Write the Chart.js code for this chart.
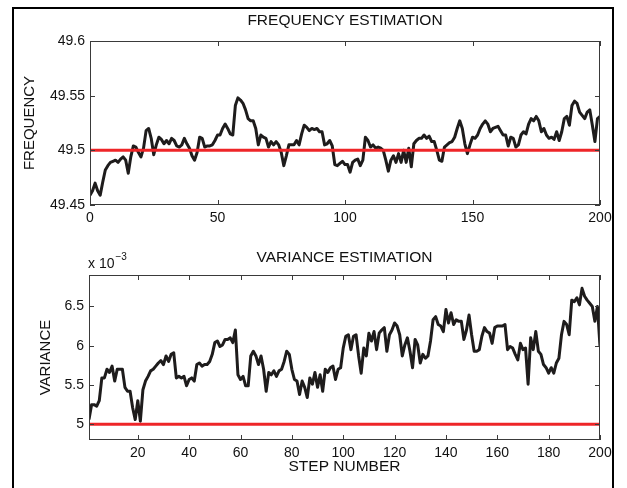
<!DOCTYPE html>
<html>
<head>
<meta charset="utf-8">
<script src="https://cdn.jsdelivr.net/npm/chart.js@4"></script>
<style>
  body { margin: 0; background: #fff; width: 627px; height: 488px; overflow: hidden; position: relative; }
  #border { position: absolute; left: 12px; top: 7px; width: 598px; height: 500px; border: 2px solid #000; }
  canvas { position: absolute; left: 0; }
  #freqCanvas { top: 0; }
  #varCanvas { top: 240px; }
</style>
</head>
<body>
<div id="border"></div>
<canvas id="freqCanvas" width="627" height="240"></canvas>
<canvas id="varCanvas" width="627" height="248"></canvas>
<script>
// frequency estimate, steps 0..200
const freqEst = [
  49.459, 49.463, 49.470, 49.463, 49.459, 49.471, 49.482, 49.486, 49.489, 49.490,
  49.491, 49.489, 49.492, 49.494, 49.491, 49.479, 49.494, 49.504, 49.503, 49.498,
  49.494, 49.502, 49.518, 49.520, 49.511, 49.496, 49.505, 49.512, 49.510, 49.506,
  49.509, 49.506, 49.511, 49.509, 49.504, 49.503, 49.505, 49.511, 49.506, 49.502,
  49.495, 49.491, 49.498, 49.512, 49.511, 49.503, 49.504, 49.504, 49.505, 49.509,
  49.514, 49.514, 49.520, 49.524, 49.520, 49.515, 49.514, 49.541, 49.548, 49.546,
  49.543, 49.537, 49.529, 49.527, 49.527, 49.520, 49.505, 49.514, 49.512, 49.511,
  49.503, 49.508, 49.505, 49.508, 49.505, 49.498, 49.486, 49.495, 49.505, 49.505,
  49.505, 49.509, 49.505, 49.515, 49.523, 49.521, 49.518, 49.520, 49.519, 49.520,
  49.517, 49.517, 49.505, 49.506, 49.509, 49.504, 49.487, 49.486, 49.488, 49.490,
  49.487, 49.487, 49.480, 49.489, 49.491, 49.492, 49.486, 49.491, 49.512, 49.509,
  49.503, 49.505, 49.502, 49.503, 49.502, 49.500, 49.491, 49.481, 49.491, 49.495,
  49.489, 49.497, 49.489, 49.500, 49.489, 49.502, 49.485, 49.506, 49.509, 49.511,
  49.511, 49.514, 49.511, 49.513, 49.508, 49.508, 49.500, 49.491, 49.490, 49.503,
  49.505, 49.507, 49.508, 49.512, 49.520, 49.527, 49.520, 49.506, 49.497, 49.505,
  49.512, 49.511, 49.514, 49.520, 49.524, 49.527, 49.524, 49.517, 49.520, 49.521,
  49.522, 49.518, 49.514, 49.514, 49.504, 49.512, 49.511, 49.503, 49.505, 49.514,
  49.517, 49.515, 49.524, 49.529, 49.527, 49.531, 49.527, 49.517, 49.520, 49.514,
  49.511, 49.512, 49.510, 49.517, 49.509, 49.517, 49.529, 49.531, 49.523, 49.541,
  49.545, 49.543, 49.535, 49.532, 49.529, 49.535, 49.537, 49.523, 49.508, 49.529,
  49.531
];
const trueFreq = 49.5;
const freqXTicks = [0, 50, 100, 150, 200];
const freqYTicks = [49.45, 49.5, 49.55, 49.6];

// variance estimate (x 10^-3), steps 1..200
const varEst = [
  5.06, 5.25, 5.25, 5.23, 5.30, 5.59, 5.59, 5.70, 5.66, 5.74,
  5.55, 5.70, 5.70, 5.70, 5.47, 5.42, 5.42, 5.21, 5.06, 5.30,
  5.04, 5.44, 5.55, 5.61, 5.68, 5.70, 5.74, 5.78, 5.81, 5.76,
  5.87, 5.80, 5.89, 5.91, 5.59, 5.61, 5.59, 5.61, 5.49, 5.57,
  5.59, 5.55, 5.76, 5.78, 5.74, 5.76, 5.76, 5.80, 5.89, 6.04,
  6.06, 5.99, 6.01, 6.08, 6.08, 6.10, 6.04, 6.20, 5.63, 5.57,
  5.61, 5.49, 5.49, 5.87, 5.93, 5.87, 5.76, 5.87, 5.70, 5.42,
  5.66, 5.63, 5.68, 5.61, 5.68, 5.70, 5.80, 5.93, 5.89, 5.70,
  5.57, 5.55, 5.38, 5.55, 5.47, 5.34, 5.59, 5.51, 5.66, 5.47,
  5.63, 5.42, 5.70, 5.66, 5.72, 5.74, 5.57, 5.70, 5.72, 5.97,
  6.12, 6.14, 5.95, 6.12, 6.14, 5.87, 5.65, 5.97, 5.87, 6.16,
  6.06, 6.18, 5.95, 6.16, 6.20, 6.23, 5.93, 6.14, 6.20, 6.29,
  6.25, 6.14, 5.87, 6.01, 6.10, 5.93, 5.72, 6.08, 6.01, 5.78,
  5.89, 5.84, 5.87, 6.06, 6.33, 6.37, 6.27, 6.25, 6.18, 6.46,
  6.29, 6.42, 6.27, 6.33, 6.31, 6.31, 6.08, 6.20, 6.39, 6.14,
  5.93, 5.93, 5.95, 6.12, 6.23, 6.18, 6.16, 6.03, 6.23, 6.25,
  6.25, 6.25, 6.27, 5.95, 5.99, 5.97, 5.89, 5.82, 6.03, 5.95,
  5.97, 5.51, 6.10, 5.95, 6.18, 5.93, 5.89, 5.76, 5.72, 5.65,
  5.72, 5.65, 5.78, 5.84, 6.14, 6.31, 6.27, 6.14, 6.58, 6.56,
  6.61, 6.52, 6.73, 6.63, 6.58, 6.54, 6.50, 6.31, 6.50, 5.99
];
const trueVar = 5;
const varXTicks = [20, 40, 60, 80, 100, 120, 140, 160, 180, 200];
const varYTicks = [5, 5.5, 6, 6.5];

const FONT = "'Liberation Sans', Arial, Helvetica, sans-serif";
const CURVE = '#1e1c1c';
const RED = '#ee2528';

// MATLAB style box with inward ticks on all four sides
const boxPlugin = {
  id: 'box',
  afterDatasetsDraw(chart) {
    const { ctx, chartArea: a, scales: { x, y } } = chart;
    ctx.save();
    ctx.strokeStyle = '#3a3a3a';
    ctx.lineWidth = 1;
    ctx.strokeRect(a.left + 0.5, a.top + 0.5, a.width - 1, a.height - 1);
    ctx.beginPath();
    x.ticks.forEach(t => {
      const px = Math.round(x.getPixelForValue(t.value)) + 0.5;
      ctx.moveTo(px, a.top); ctx.lineTo(px, a.top + 5);
      ctx.moveTo(px, a.bottom); ctx.lineTo(px, a.bottom - 5);
    });
    y.ticks.forEach(t => {
      const py = Math.round(y.getPixelForValue(t.value)) + 0.5;
      ctx.moveTo(a.left, py); ctx.lineTo(a.left + 5, py);
      ctx.moveTo(a.right, py); ctx.lineTo(a.right - 5, py);
    });
    ctx.stroke();
    ctx.restore();
  }
};

// "x 10^-3" multiplier above the variance axis
const expPlugin = {
  id: 'exponent',
  afterDraw(chart) {
    const ctx = chart.ctx;
    ctx.save();
    ctx.fillStyle = '#111';
    ctx.textBaseline = 'alphabetic';
    ctx.font = '14px ' + FONT;
    ctx.fillText('x 10', 88, 28);
    const w = ctx.measureText('x 10').width;
    ctx.font = '10px ' + FONT;
    ctx.fillText('\u22123', 88 + w + 1, 20);
    ctx.restore();
  }
};

const plainNum = v => String(+(+v).toFixed(4));

function makeChart(id, o) {
  const ctx = document.getElementById(id).getContext('2d');
  return new Chart(ctx, {
    type: 'line',
    data: {
      datasets: [
        {
          data: [{ x: o.xMin, y: o.ref }, { x: o.xMax, y: o.ref }],
          borderColor: RED, borderWidth: 3, pointRadius: 0, order: 0
        },
        {
          data: o.values.map((v, i) => ({ x: i + o.firstStep, y: v })),
          borderColor: CURVE, borderWidth: 3, pointRadius: 0, tension: 0,
          borderJoinStyle: 'round', order: 1
        }
      ]
    },
    options: {
      responsive: false,
      animation: false,
      layout: { padding: { left: 0, right: 27, top: 0, bottom: 0 } },
      plugins: {
        legend: { display: false },
        tooltip: { enabled: false },
        title: {
          display: true, text: o.title, fullSize: false, color: '#111',
          font: { family: FONT, size: 15.5, weight: 'normal' },
          padding: o.titlePad
        }
      },
      scales: {
        x: {
          type: 'linear', min: o.xMin, max: o.xMax,
          afterBuildTicks: s => { s.ticks = o.xTicks.map(v => ({ value: v })); },
          afterFit: s => { s.height = o.xHeight; },
          grid: { display: false, drawTicks: false },
          border: { display: false },
          ticks: { color: '#111', padding: 5, maxRotation: 0, callback: plainNum, font: { family: FONT, size: 14 } },
          title: {
            display: !!o.xTitle, text: o.xTitle || '', color: '#111',
            font: { family: FONT, size: 15.5 }, padding: { top: 12, bottom: 12 }
          }
        },
        y: {
          type: 'linear', min: o.yMin, max: o.yMax,
          afterBuildTicks: s => { s.ticks = o.yTicks.map(v => ({ value: v })); },
          afterFit: s => { s.width = o.yWidth; },
          grid: { display: false, drawTicks: false },
          border: { display: false },
          ticks: { color: '#111', padding: 5, callback: plainNum, font: { family: FONT, size: 14 } },
          title: {
            display: true, text: o.yTitle, color: '#111',
            font: { family: FONT, size: 15 }, padding: { top: o.yTitlePad, bottom: o.yTitlePad }
          }
        }
      }
    },
    plugins: o.plugins
  });
}

makeChart('freqCanvas', {
  title: 'FREQUENCY ESTIMATION', titlePad: { top: 11, bottom: 11.4 },
  values: freqEst, firstStep: 0, ref: trueFreq,
  xMin: 0, xMax: 200, xTicks: freqXTicks, xHeight: 35,
  yMin: 49.45, yMax: 49.6, yTicks: freqYTicks, yWidth: 90,
  yTitle: 'FREQUENCY', yTitlePad: 21,
  plugins: [boxPlugin]
});

makeChart('varCanvas', {
  title: 'VARIANCE ESTIMATION', titlePad: { top: 8, bottom: 8.4 },
  values: varEst, firstStep: 1, ref: trueVar,
  xMin: 1, xMax: 200, xTicks: varXTicks, xHeight: 48, xTitle: 'STEP NUMBER',
  yMin: 4.8, yMax: 6.9, yTicks: varYTicks, yWidth: 89,
  yTitle: 'VARIANCE', yTitlePad: 37,
  plugins: [boxPlugin, expPlugin]
});
</script>
</body>
</html>
